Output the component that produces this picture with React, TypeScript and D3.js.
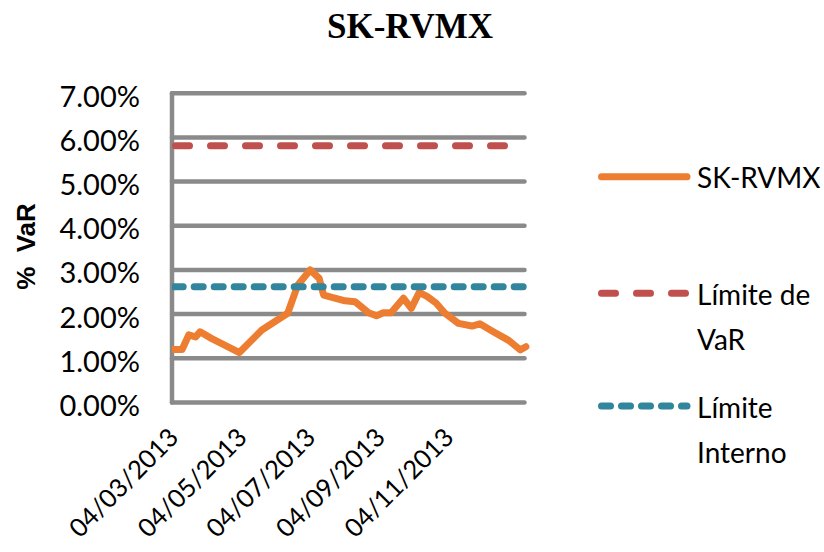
import React from "react";
import * as d3 from "d3";

const title = "SK-RVMX";
const yAxisTitle = "%\u00a0\u00a0VaR";
const dates = ["2013-03-04","2013-03-13","2013-03-19","2013-03-25","2013-03-29","2013-04-08","2013-05-03","2013-05-23","2013-06-15","2013-06-24","2013-07-05","2013-07-13","2013-07-17","2013-08-05","2013-08-14","2013-08-26","2013-09-02","2013-09-08","2013-09-15","2013-09-26","2013-10-03","2013-10-10","2013-10-17","2013-10-25","2013-11-02","2013-11-14","2013-11-26","2013-12-03","2013-12-15","2013-12-29","2014-01-08","2014-01-13"];
const skValues = [1.20,1.20,1.53,1.48,1.60,1.45,1.13,1.64,2.02,2.66,3.00,2.81,2.43,2.30,2.28,2.03,1.96,2.03,2.03,2.36,2.13,2.49,2.40,2.25,2.02,1.79,1.73,1.78,1.60,1.40,1.19,1.26];
const varLimit = 5.81;
const varLimitDates = ["2013-03-04", "2013-12-31"];
const internalLimit = 2.62;
const internalLimitDates = ["2013-03-04", "2014-01-13"];
const yTicks = [0, 1, 2, 3, 4, 5, 6, 7];
const xTickDates = ["2013-03-04", "2013-05-04", "2013-07-04", "2013-09-04", "2013-11-04"];
const domainDates = ["2013-03-04", "2014-01-14"];
const seriesNames = ["SK-RVMX", "Límite de VaR", "Límite Interno"];
const legendLines = [["SK-RVMX"], ["Límite de", "VaR"], ["Límite", "Interno"]];

const ORANGE = "#ED7D31";
const RED = "#C0504D";
const TEAL = "#31859C";
const GRID = "#8A8A8A";
const FONT = "Lato, 'Open Sans', sans-serif";

export default function App() {
  const parse = d3.timeParse("%Y-%m-%d");
  const fmt = d3.timeFormat("%d/%m/%Y");
  const x = d3.scaleTime().domain(domainDates.map((d) => parse(d)!)).range([172, 527]);
  const y = d3.scaleLinear().domain([0, 7]).range([402.4, 93.3]);
  const pts = dates.map((d, i) => ({ d: parse(d)!, v: skValues[i] }));
  const line = d3.line<{ d: Date; v: number }>().x((p) => x(p.d)).y((p) => y(p.v));
  const limLine = (v: number, ds: string[]) => line(ds.map((d) => ({ d: parse(d)!, v }))) || "";
  const x0 = x.range()[0];
  const x1 = x.range()[1];

  const legendY = [176.7, 293.3, 406];
  const legendStyles = [
    { color: ORANGE, dash: undefined as string | undefined },
    { color: RED, dash: "14 21" },
    { color: TEAL, dash: "9 11" },
  ];

  return (
    <svg width={824} height={552} style={{ position: "absolute", left: 0, top: 0, background: "#fff" }}>
      <defs>
        <clipPath id="plotclip">
          <rect x={x0} y={60} width={380} height={380} />
        </clipPath>
      </defs>
      <text x={410} y={38} textAnchor="middle" fontFamily="'Liberation Serif', 'Times New Roman', serif" fontWeight="bold" fontSize={35} fill="#000">
        {title}
      </text>
      {yTicks.map((t) => (
        <g key={t}>
          <line x1={x0} x2={x1 - 2.5} y1={y(t)} y2={y(t)} stroke={GRID} strokeWidth={4.5} strokeLinecap="round" />
          <text x={140} y={y(t) + 13.5} textAnchor="end" fontFamily={FONT} fontSize={29} fill="#000">
            {t.toFixed(2) + "%"}
          </text>
        </g>
      ))}
      <line x1={x0} x2={x0} y1={y(7)} y2={y(0)} stroke={GRID} strokeWidth={4.5} strokeLinecap="round" />
      <g clipPath="url(#plotclip)">
        <path d={line(pts) || ""} fill="none" stroke={ORANGE} strokeWidth={7} strokeLinejoin="round" strokeLinecap="round" />
        <path d={limLine(varLimit, varLimitDates)} fill="none" stroke={RED} strokeWidth={7} strokeLinecap="round" strokeDasharray="14 21" strokeDashoffset={31.5} />
        <path d={limLine(internalLimit, internalLimitDates)} fill="none" stroke={TEAL} strokeWidth={7} strokeLinecap="round" strokeDasharray="9 11" strokeDashoffset={17.8} />
      </g>
      {xTickDates.map((d) => {
        const px = x(parse(d)!);
        return (
          <text key={d} transform={`translate(${px + 8},439) rotate(-45)`} textAnchor="end" fontFamily={FONT} fontSize={25.5} fill="#000">
            {fmt(parse(d)!)}
          </text>
        );
      })}
      <text transform="translate(35,246.5) rotate(-90)" textAnchor="middle" fontFamily="'Liberation Sans', Arial, sans-serif" fontWeight="bold" fontSize={26} fill="#000">
        {yAxisTitle}
      </text>
      {seriesNames.map((name, i) => (
        <g key={name}>
          <line x1={601.5} x2={687} y1={legendY[i]} y2={legendY[i]} stroke={legendStyles[i].color} strokeWidth={7} strokeLinecap="round" strokeDasharray={legendStyles[i].dash} />
          {legendLines[i].map((ln, j) => (
            <text key={j} x={697} y={legendY[i] + 11.5 + j * 45} fontFamily={FONT} fontSize={28} fill="#000">
              {ln}
            </text>
          ))}
        </g>
      ))}
    </svg>
  );
}
